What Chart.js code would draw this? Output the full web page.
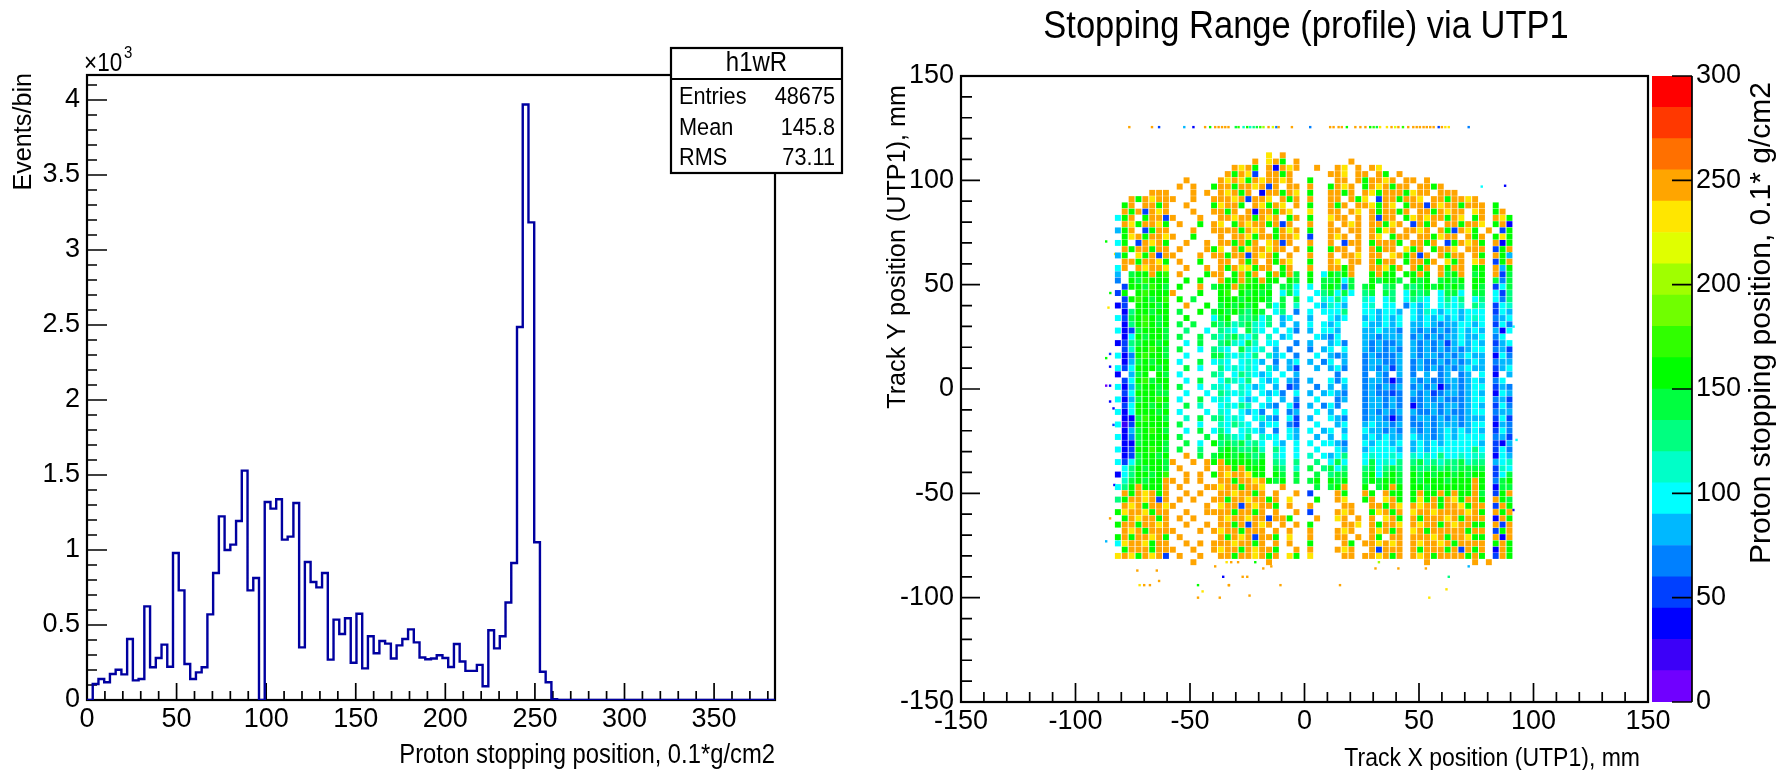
<!DOCTYPE html>
<html><head><meta charset="utf-8">
<style>html,body{margin:0;padding:0;background:#fff;width:1785px;height:770px;overflow:hidden}canvas{position:absolute;top:0}</style>
<script src="https://cdn.jsdelivr.net/npm/chart.js@4"></script>
</head><body>
<canvas id="c1" width="880" height="770" style="left:0"></canvas>
<canvas id="c2" width="800" height="770" style="left:880px"></canvas>
<canvas id="c3" width="135" height="770" style="left:1650px"></canvas>
<script>
// ---- Histogram: bin contents (bin width 3.2)
const binWidth = 3.2;
const binCounts = [0,107,140,118,173,202,171,407,131,140,624,218,280,369,222,980,731,240,140,184,218,571,847,1224,1000,1036,1193,1529,731,813,0,1320,1276,1338,1069,1089,1313,351,920,787,751,847,269,536,440,545,248,575,211,425,312,393,376,277,364,407,471,384,283,272,277,298,280,220,373,257,194,194,234,92,465,344,425,650,913,2487,3970,3184,1052,188,118,5,0,0,0,0,0,0,0,0,0,0,0,0,0,0,0,0,0,0,0,0,0,0,0,0,0,0,0,0,0,0,0,0,0,0,0,0,0,0];
const statsTitle = "h1wR";
const statsLabels = ["Entries","Mean","RMS"];
const statsValues = ["48675","145.8","73.11"];
// ---- Colour bands of the palette
const bandStep = 15;
const bandColors = ["#7000ff","#3c00f8","#0000ff","#0040ff","#0080ff","#00b8ff","#00ffff","#00ffc8","#00ff80","#00ff40","#00ff00","#30ff00","#70ff00","#a0ff00","#e0ff00","#ffe600","#ffa500","#ff7000","#ff3800","#ff0000"];
// ---- Map: coarse 3 mm read-out of the profile, a letter = colour band (a=0-15 ... t=285-300), '.' = empty
const cellFirstX = -81.5, cellFirstY = 112, cellPitch = 3;
const cellRows = [
"........ ....... .......p.q.. .... ......... ......... .........",
"........ ....... .....q.pqk.q .... ...q..... ......... .........",
"........ ....... ..qpqk.qcqpq ..q. .qp.q.qp. ......... .........",
"........ ....... .qkqpd.qqkq. .... qqp.qq.qk .q....... .........",
"........ ..q.... qpqpkqpqqpq. .k.. .qq.qkqqp q.qq.q... .........",
"........ .q.q..k qqkqqpqdq.qq .q.. kqpq.kqpq kqq.qqkq. .........",
".....qqq ...q.q. qpqkq.cqqkqp .k.. qqkq.qpkq qqkpqq.qq q........",
"..qkqpqq q..q..q qqpqdqqp.qkq .q.. qq.qkp.dq qkqqp.qqk qqpq.....",
".kq.qqkq ..q...k pqqk.qpkqp.q .k.. qkq.qqpkq p.kqqdqpq qkqqq.k..",
".qkqdqpq ...q..q qkq.qcqqkqp. .p.. qq.qp.qkq qkq.qqkqp qq.pq.kq.",
"gkq.kqqd q...q.. qqpqqkqpq.kq .k.. pqq.q.qdq q.kpqpqqk qp.kq.qpk",
".qpkqqpk .q..k.q p.kqpqqkqdq. .q.. q.qpq.qqk pq.dqkq.q qkqqp.kqc",
"fkq.dkqq ...q..q qqqkqpq.kqoq .k.. qq.qq.qkp q.qqpq.qk dqpk.q.dk",
".kpqkqqp q..k... q.qqpkqqkqqp .d.. qpq.q.qp. kqq.qqkpq q.qkq.kpk",
"gk.dqpqk ..q..q. qqkqkq.pqdq. .q.. q.dqq.kqq qk.qqkq.d kqpqk.qck",
".qkqqkqq .q...qk p.qkpqqoqq.q .k.. kqq.q.qkq q.pkq.kqq p.qqq.dkq",
"fk.pkqdq q...q.q qkqqdqpqk.q. .q.. q.qqp.qq. pqkqdq.qk qq.qk.qkf",
".qqkqqpk .q..k.. qq.qkq.qkqp. .k.. qp.qq.qkq q.kqqkq.p kq.pq.dkq",
"gq.qpqqp ..q..q. qkqopkqq.kq. .q.. qqkq..qqp kq.qkq.qk qq.kk.qfk",
"f.jkkqkl .q...kq q.kqkq.kqkqj .k.g kjkq..kqk k.kkqk.qj kq.jk.qdj",
"e.kjlkkk ..k.k.. qkkqlkqkk.kj .k.j jkgj..kjk kj.kjk.jk jk.kk.jej",
".dkkjlkj .k..q.j kkqlkkkj.jjg .g.j kjej.jk.i j.jijkjkj kj.kj.dgj",
"dk.klkkk q...k.. kl.kjkjk.gjg ..gi jgjg.ij.j i.gjij.gj jg.jj.gdi",
".dklkjkl .k.j... kkkjkkkj.j.j .g.h gig..hg.g i.gihg.gi gi.gi.gei",
"cd.kkkjk ..q..k. jkjkjk.jgj.h ..gf hgf..gh.g g.egfg.gh gh.ih.dgh",
".cikkjkk .j..k.j kjkjikj.gi.e .g.g ggi..ggfg gf.gfhgfg gfggg.dgf",
"gdjklkjk ..k...g jk.iijgi.fg. .f.. gfg..fgfg fg.gfgfgf gfghg.efg",
".ciklkjk .j.j..j ijhijhgi.f.f .g.g fg...gffg fg.ffgfef fggfg.dge",
"gcdjkkkj ..i..g. ihg.jhg.g.ge .f.g gf...ffgf fe.fefefe fgfgf.fcg",
".cgkjkkj .j..j.i hijhgi.h.fg. ..gf eg...ffef ff.efefef fgffg.eg.",
"cdijkkjk ..g.j.. ijhgjh.gg..e .f.. fge..fefe ef.fefefd fgfgf.dfg",
".dhkklkj .j..g.i hg.jhgh.f.e. .e.f g.g..fefe fe.fefefe fefgg.efd",
"gceklkkj ..g...j jhghgi.hfg.e ..g. fef..efee ef.feffef efgff.cge",
".cfjkjkk .g..j.g hg.ghgf.e.fg .f.e g.f..effe ef.efeefe fefgf.eff",
"gdgkkkjk ..j.g.. ighghg.hf.fd ..f. fge..efef df.efefef efgff.dfg",
"c.fjk.kj .g....i h.gihgfg.g.f .... .e...e.fe .f.e.f.ef .ef.g.c.f",
".dgkljkk ..g.j.. gihgi.gfg.fe .f.. geg..effe ce.fefeef fefgf.eg.",
"gcfjkkjk .j..g.h hg.hgfg.f.de ..e. f.f..efef ef.efefce fefgg.dfe",
".dgkkkjj ..g..g. ihghg.gfge.g .f.f gfe..efee de.fefdef fefgf.cgf",
"gcfjkklk .g..j.g hg.gfg.g.f.e ..g. .ef..effe fe.eefefe eefgg.efd",
".dgkkjkj ..j.h.. ghgih.gfe.gd .f.e ge...effe fe.ceffef fefgf.dge",
"gcgkkkjk .g...g. hg.gfge.g.ef ..g. f.g..efef ef.feefef eefgg.eff",
".ccjlkkj ..h.j.i ighg.ghfe.gd .f.. gfe..effe ce.effefe fefff.dgd",
"gbdkkkkk .j..g.. hgihg.fgg.ed ..g. .fg..fgff ef.eefeff fefgg.cfe",
".cfjklkj ..g.j.g ig.ghgf.e.gf .g.f g.f..gffe fe.fefefg fgfgf.dge",
"gcejkkkk .j...j. jihgi.hgg.gf ..f. f.g..fgfg ff.gffefg fgggg.efd",
".ccjkkkj ..j.g.k ijijhig.gf.g .g.g gfe..gfgg fg.fgfgfg ggggf.dcf",
"gcdkklkj .j..i.. jkjiijh.ig.g ..g. .gf..fggg gf.fgfggg gggig.dge",
".cdjkkjk ..q.j.j kkjkjij.hg.g .h.g fgi..ghgg hg.hghgig ghghh.cgf",
"gdgjkkkj q..q.qk qkkkkjk.ih.i ..i. gjg..gjgh gi.ijhihi ijhii.fgh",
".gikjkkj .q...q. qqkqkkk.ji.h .j.i jgi..ijgi ji.jiijij ijjjj.dhg",
"cgikkjkl ..q.q.k qpqqpkk.kj.j ..j. ijj..jkgj kj.kjkjkk jkjkk.dgj",
".hjkjkkq q.q.q.. qqkqqpqkjk.j .jk. kjk..jkjk kj.kjkkkj kkkqk.ejk",
"gikqkkkq .q...qq pqqkqqp..q.. ..j. jkq..k.jk qk.kkjkkk kkkqk.cjj",
".qkqpqkq ..q.q.. qqpqqkq.q..q .d.. .qk..qk.q kk.kqkkqk qkkqj.dkq",
"ikqqpqdq .q.q..q qkqqpqqkq.p. ..k. .qp..kq.p qk.kpkqkq pkqqk.qkj",
".qpqkqqp q....q. pqqdqpqqk.q. .q.. ..qq..qqk qp.qpqqkq qpkqq.dqk",
"kpqqpkqq ..q..qq qqkqqkq.q..q .d.. .qpq..kpq kq.pqqpqq qqpqk.qkq",
".kqpqqkq .q.q... qpqqpqqdqqk. ..q. .pq.q.q.p qk.qkqqqp qkqqq.cqk",
"kqqkqqpq ..q..q. qqkqdqpq.q.q .k.. ..qqp.qkq qp.qpqqkq pqqkk.qdq",
".qpqkqqq q...q.q pqqkqqq.q.q. .q.. .qpq..qpq kq.pqkqqq qqkqq.dkq",
"kqkqqpqk .q..... qkqpqdqqk.p. .q.. .qq.q.qk. qq.qqqpqk qqpkk.qcq",
"gpqqpkqq ..q.q.q qqpqqkq.q.q. .k.. ..qk.qqpq pq.qpqqpq kqqqq.kqk",
".kqqqkqq q..q..q pqqkqpqqk..q .q.. .qpq..qdq qq.qkqqqk qdqkq.cqk",
"pqpkqpqd .q..q.. qqkqqpqkq.pk .p.. ..qq.qqpq kq.qpqkqq qqkqk.dqk",
"........ ...q... .......q.... .... ......... .....q... ...q.q..."
];
// ---- Isolated points of the map: top strip at y = 125.5 and stray hits
const stripY = 125.5;
const stripX = [-76.5,-66.6,-63.5,-52.5,-48.5,-43.4,-41.2,-39,-37.5,-36,-34.6,-33.2,-30,-28.8,-26.6,-25,-23.7,-22.2,-20.8,-19.3,-17.9,-15.7,-13.8,-12.3,-11.3,-5.5,2.5,11.2,12.7,14.9,16.3,18.5,22.2,24.4,26.6,28.7,30.2,31.6,33,36,38,39.6,41,43,45.3,47.5,49,50.4,52,53.4,54.9,56.4,58.6,60,61.5,63,71.7];
const stripV = [247,247,52,82,37,247,150,247,247,247,247,247,135,165,105,150,112,120,135,165,195,247,210,60,240,247,70,247,247,247,247,150,247,247,247,150,165,135,225,232,247,210,247,165,247,247,247,247,247,247,247,247,52,247,232,232,60];
const strayX = [-86.6,-82.7,-84.8,-85.6,87.6,77.4,89.8,91.3,-84.9,-86.6,-84.9,-86.6,-84.9,-84.9,-83.4,-83.4,-86.6,-84.9,-83,92.6,91.2,-81.5,-75,-73,-64.5,-72,-70,-67.5,-63.5,-46.5,-44.5,-46.5,-39,-34,-32,-29,-35.5,-33,-27,-25,-33,-37,-24,-21.5,-18,-14.5,-10.5,15.5,32.5,31,41,53,63,62,54.5,71.7];
const strayY = [70.7,64.7,46,39,97.4,97,65.8,29.9,16.8,14.8,10.7,1.6,1.6,-6,-9.3,-17.2,-73,-62,-46,-24.4,-58,-72,-72,-87,-87,-94,-94,-94,-92,-94,-97,-100,-85,-83,-83,-83,-90,-94,-90,-90,-94,-100,-99,-83,-86,-85,-94,-94,-83,-86,-86,-86,-90,-96,-100,-85];
const strayV = [150,232,150,232,37,97,150,97,52,150,37,7,37,37,37,52,82,247,37,97,37,247,247,247,247,232,247,247,247,150,232,247,247,232,247,247,37,247,247,247,247,247,247,150,247,247,247,247,195,247,247,247,120,232,232,82];
// ---- Tick labels and axis text
const histXTicks = [0,50,100,150,200,250,300,350];
const histYTicks = [0,500,1000,1500,2000,2500,3000,3500,4000];
const histTitleX = "Proton stopping position, 0.1*g/cm2";
const histTitleY = "Events/bin";
const mapTitle = "Stopping Range (profile) via UTP1";
const mapTitleX = "Track X position (UTP1), mm";
const mapTitleY = "Track Y position (UTP1), mm";
const paletteTitle = "Proton stopping position, 0.1* g/cm2";

const FONT = '"Liberation Sans", Arial, sans-serif';
const TICKFONT = {family:'"Liberation Sans Narrow", "Liberation Sans", Arial, sans-serif',size:27};
Chart.defaults.font.family = FONT;
Chart.defaults.color = '#000';
Chart.defaults.animation = false;
const steps = (a,b,s)=>{const o=[];for(let v=a;v<=b+1e-9;v+=s)o.push(v);return o;};
const bandOf = v => bandColors[Math.min(bandColors.length-1,Math.floor(v/bandStep))];

// Inward ROOT style ticks and the frame, under the data so the empty bins show along the axis
const rootFrame = {
  id:'rootFrame',
  beforeDatasetsDraw(chart,args,o){
    const {ctx,chartArea:a,scales:{x,y}} = chart;
    ctx.save(); ctx.strokeStyle='#000'; ctx.lineWidth=1.7; ctx.beginPath();
    const doX=(vals,len)=>vals.forEach(v=>{const p=x.getPixelForValue(v);ctx.moveTo(p,a.bottom);ctx.lineTo(p,a.bottom-len);});
    const doY=(vals,len)=>vals.forEach(v=>{const p=y.getPixelForValue(v);ctx.moveTo(a.left,p);ctx.lineTo(a.left+len,p);});
    doX(o.xMajor,o.xMajorLen);doX(o.xMinor,o.xMinorLen);doY(o.yMajor,o.yMajorLen);doY(o.yMinor,o.yMinorLen);
    ctx.stroke();
    ctx.lineWidth=2.2;ctx.strokeRect(a.left,a.top,a.right-a.left,a.bottom-a.top);
    ctx.restore();
  }
};
const texts = {
  id:'texts',
  afterDraw(chart,args,o){
    const ctx=chart.ctx; ctx.save(); ctx.fillStyle='#000';
    (o.items||[]).forEach(t=>{
      ctx.save(); ctx.translate(t.x,t.y); if(t.rot)ctx.rotate(t.rot); if(t.sy)ctx.scale(1,t.sy);
      ctx.font=t.size+'px '+FONT; ctx.textAlign=t.align||'left'; ctx.textBaseline=t.base||'alphabetic';
      ctx.fillText(t.s,0,0); ctx.restore();
    });
    if(o.box){const b=o.box;
      ctx.fillStyle='#fff';ctx.fillRect(b.l,b.t,b.r-b.l,b.b-b.t);
      ctx.strokeStyle='#000';ctx.lineWidth=2.2;ctx.strokeRect(b.l,b.t,b.r-b.l,b.b-b.t);
      ctx.beginPath();ctx.moveTo(b.l,b.div);ctx.lineTo(b.r,b.div);ctx.stroke();
      ctx.fillStyle='#000';
      const put=(s,x,y,align,size)=>{ctx.save();ctx.translate(x,y);ctx.scale(1,1.12);ctx.font=size+'px '+FONT;ctx.textAlign=align;ctx.textBaseline='alphabetic';ctx.fillText(s,0,0);ctx.restore();};
      put(statsTitle,(b.l+b.r)/2,71,'center',24);
      statsLabels.forEach((l,i)=>{const yy=104+i*30.7;put(l,b.l+8,yy,'left',21.7);put(statsValues[i],b.r-7,yy,'right',21.7);});
    }
    ctx.restore();
  }
};
const fixedBoxes = (w,h)=>({afterFit(s){ if(s.isHorizontal()) s.height=h; else s.width=w; }});

// ---- Histogram
const histPoints = binCounts.map((c,i)=>({x:i*binWidth,y:c}));
histPoints.push({x:binCounts.length*binWidth,y:0});
new Chart(document.getElementById('c1'),{
  type:'scatter',
  data:{datasets:[{data:histPoints,showLine:true,stepped:'before',borderColor:'#0000a0',borderWidth:2.4,pointRadius:0,fill:false}]},
  options:{responsive:false,devicePixelRatio:1,
    layout:{padding:{left:0,top:75,right:105,bottom:0}},
    plugins:{legend:{display:false},tooltip:{enabled:false},
      rootFrame:{xMajor:histXTicks,xMinor:steps(0,380,10).filter(v=>v%50),xMajorLen:17,xMinorLen:9,
                 yMajor:histYTicks,yMinor:steps(0,4100,100).filter(v=>v%500),yMajorLen:20,yMinorLen:10},
      texts:{box:{l:671,t:48,r:842,b:173,div:79},items:[
        {s:histTitleX,x:775,y:763,size:23.8,align:'right',sy:1.15},
        {s:histTitleY,x:31,y:73,size:25.2,align:'right',rot:-Math.PI/2},
        {s:'×10',x:84,y:71,size:22.5,sy:1.15},
        {s:'3',x:124,y:58,size:15,sy:1.07}
      ]}},
    scales:{
      x:{type:'linear',min:0,max:384,grid:{display:false,drawTicks:false},border:{display:false},
         afterBuildTicks(s){s.ticks=histXTicks.map(v=>({value:v}));},
         ticks:{font:TICKFONT,padding:3,maxRotation:0,autoSkip:false},...fixedBoxes(87,70)},
      y:{type:'linear',min:0,max:625/150*1000,grid:{display:false,drawTicks:false},border:{display:false},
         afterBuildTicks(s){s.ticks=histYTicks.map(v=>({value:v}));},
         ticks:{font:TICKFONT,padding:7,callback:v=>String(v/1000)},...fixedBoxes(87,70)}
    }
  },
  plugins:[rootFrame,texts]
});

// ---- Map
const cellPoints=[];
cellRows.forEach((row,r)=>{
  row.replace(/ /g,'').split('').forEach((ch,c)=>{
    if(ch==='.')return;
    cellPoints.push({x:cellFirstX+c*cellPitch,y:cellFirstY-r*cellPitch,v:(ch.charCodeAt(0)-97)*bandStep+bandStep/2});
  });
});
const strayPoints=[...stripX.map((x,i)=>({x,y:stripY,v:stripV[i]})),...strayX.map((x,i)=>({x,y:strayY[i],v:strayV[i]}))];
const byValue=c=>bandOf(c.raw.v);
new Chart(document.getElementById('c2'),{
  type:'scatter',
  data:{datasets:[
    {data:cellPoints,pointStyle:'rect',pointRadius:4.2,pointBorderWidth:0,backgroundColor:byValue,borderColor:byValue},
    {data:strayPoints,pointStyle:'rect',pointRadius:1.7,pointBorderWidth:0,backgroundColor:byValue,borderColor:byValue}
  ]},
  options:{responsive:false,devicePixelRatio:1,
    layout:{padding:{left:0,top:76,right:32,bottom:0}},
    plugins:{legend:{display:false},tooltip:{enabled:false},
      rootFrame:{xMajor:steps(-150,150,50),xMinor:steps(-150,150,10).filter(v=>v%50),xMajorLen:19,xMinorLen:10,
                 yMajor:steps(-150,150,50),yMinor:steps(-150,150,10).filter(v=>v%50),yMajorLen:19,yMinorLen:11},
      texts:{items:[
        {s:mapTitle,x:426,y:38,size:34.5,align:'center',sy:1.12},
        {s:mapTitleX,x:760,y:766,size:23,align:'right',sy:1.15},
        {s:mapTitleY,x:25,y:85,size:25.2,align:'right',rot:-Math.PI/2}
      ]}},
    scales:{
      x:{type:'linear',min:-150,max:150,grid:{display:false,drawTicks:false},border:{display:false},
         ticks:{stepSize:50,font:TICKFONT,padding:3,maxRotation:0,autoSkip:false},...fixedBoxes(81,68)},
      y:{type:'linear',min:-150,max:150,grid:{display:false,drawTicks:false},border:{display:false},
         ticks:{stepSize:50,font:TICKFONT,padding:7},...fixedBoxes(81,68)}
    }
  },
  plugins:[rootFrame,texts]
});

// ---- Palette
const paletteTicks = {
  id:'paletteTicks',
  afterDatasetsDraw(chart){
    const {ctx,chartArea:a,scales:{y}}=chart;ctx.save();ctx.strokeStyle='#000';ctx.lineWidth=1.7;ctx.beginPath();
    steps(0,300,50).forEach(v=>{const p=y.getPixelForValue(v);ctx.moveTo(a.right,p);ctx.lineTo(a.right-20,p);});
    ctx.moveTo(a.right,a.top);ctx.lineTo(a.right,a.bottom);ctx.stroke();ctx.restore();
  }
};
new Chart(document.getElementById('c3'),{
  type:'bar',
  data:{labels:[''],datasets:bandColors.map(c=>({data:[bandStep],backgroundColor:c,barPercentage:1,categoryPercentage:1,stack:'s'}))},
  options:{responsive:false,devicePixelRatio:1,
    layout:{padding:{left:2,top:76,right:0,bottom:68}},
    plugins:{legend:{display:false},tooltip:{enabled:false},
      texts:{items:[{s:paletteTitle,x:120,y:82,size:30,align:'right',rot:-Math.PI/2}]}},
    scales:{
      x:{display:false,stacked:true},
      y:{type:'linear',position:'right',min:0,max:300,stacked:true,grid:{display:false,drawTicks:false},border:{display:false},
         ticks:{stepSize:50,font:TICKFONT,padding:4},...fixedBoxes(93,0)}
    }
  },
  plugins:[paletteTicks,texts]
});
</script>
</body></html>
